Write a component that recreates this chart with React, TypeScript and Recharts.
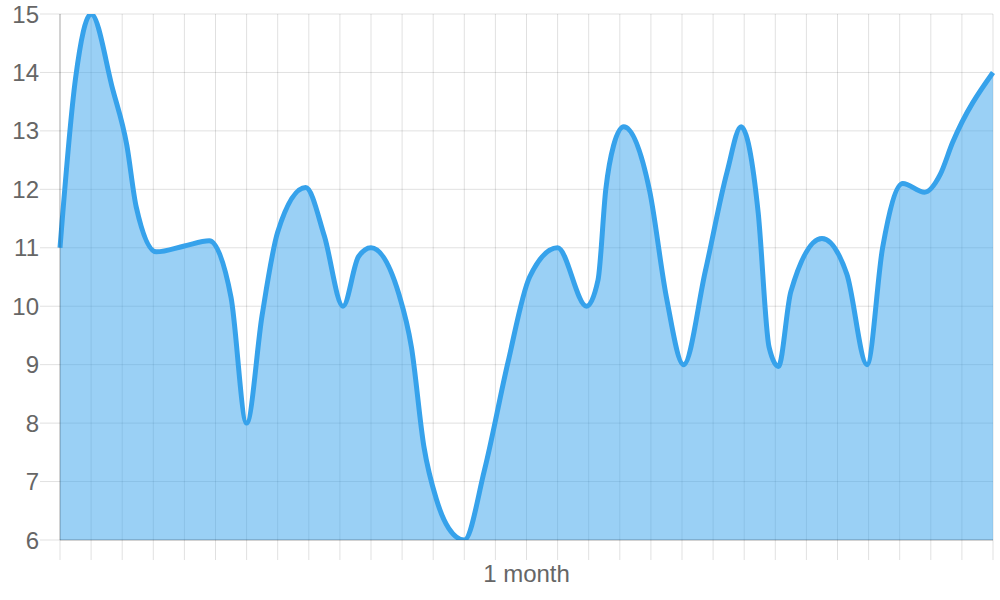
import {
  AreaChart,
  Area,
  XAxis,
  YAxis,
  CartesianGrid,
} from "recharts";

// position of each reading along the month (0..30) and its value
const days = [
  0, 0.5, 1, 1.7, 2.15, 2.45, 3.1, 4.0, 4.8, 5.5, 6.0, 6.5, 7.0, 7.9, 8.5,
  9.1, 9.6, 10.0, 10.9, 11.3, 11.7, 12.1, 12.5, 13.0, 13.65, 14.4, 15.1, 16.0,
  16.93, 17.3, 17.55, 17.8, 18.13, 18.96, 19.5, 20.05, 20.75, 21.45, 21.9,
  22.45, 22.8, 23.1, 23.5, 24.5, 25.3, 25.95, 26.45, 27.1, 27.8, 28.3, 28.7,
  30,
];
const values = [
  11, 13.9, 15, 13.7, 12.75, 11.7, 10.93, 11.03, 11.12, 10.15, 8, 9.85,
  11.27, 12.03, 11.2, 10, 10.85, 11, 10.2, 9.3, 7.6, 6.7, 6.2, 6, 7.2, 9.03,
  10.5, 11, 10, 10.45, 12.0, 12.75, 13.07, 11.97, 10.15, 9, 10.6, 12.3, 13.07,
  11.6, 9.3, 8.97, 10.25, 11.16, 10.55, 9, 11, 12.1, 11.95, 12.25, 12.8, 14,
];

const xTicks = Array.from({ length: 31 }, (_, i) => i);
const yTicks = [6, 7, 8, 9, 10, 11, 12, 13, 14, 15];

const data = days.map((day, i) => ({ day, value: values[i] }));

const grid = "rgba(0,0,0,0.12)";
const axis = "rgba(0,0,0,0.25)";
const font = "'Liberation Sans', Arial, sans-serif";

export default function App() {
  return (
    <div style={{ position: "absolute", left: 0, top: 0, fontFamily: font }}>
      <AreaChart
        width={1000}
        height={600}
        data={data}
        margin={{ top: 14, right: 7, bottom: 10, left: 0 }}
      >
        <CartesianGrid stroke={grid} strokeWidth={1} />
        <XAxis
          dataKey="day"
          type="number"
          domain={[0, 30]}
          ticks={xTicks}
          tickFormatter={() => ""}
          tickSize={20}
          tickLine={{ stroke: grid }}
          axisLine={{ stroke: axis }}
          height={50}
          interval={0}
          label={{
            value: "1 month",
            position: "insideBottom",
            offset: 8,
            fill: "#666",
            fontSize: 24,
            fontFamily: font,
          }}
        />
        <YAxis
          type="number"
          domain={[6, 15]}
          ticks={yTicks}
          allowDataOverflow
          interval={0}
          width={60}
          tickSize={20}
          tickMargin={1}
          tickLine={{ stroke: grid }}
          axisLine={{ stroke: axis }}
          tick={{ fill: "#666", fontSize: 24, fontFamily: font }}
        />
        <Area
          type="monotone"
          dataKey="value"
          stroke="#36A2EB"
          strokeWidth={5}
          fill="#36A2EB"
          fillOpacity={0.5}
          dot={false}
          activeDot={false}
          isAnimationActive={false}
        />
      </AreaChart>
    </div>
  );
}
